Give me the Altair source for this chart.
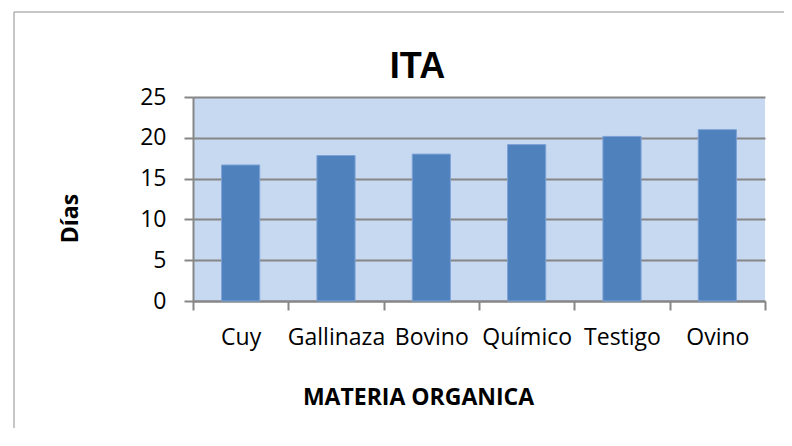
import altair as alt
import pandas as pd

categories = ["Cuy", "Gallinaza", "Bovino", "Químico", "Testigo", "Ovino"]
dias = [16.67, 17.83, 18.0, 19.17, 20.17, 21.0]
y_ticks = [0, 5, 10, 15, 20, 25]

df = pd.DataFrame({"materia": categories, "dias": dias})
frame_df = pd.DataFrame({"k": [0]})

label_font = "Open Sans"
grey = "#868686"

bars = alt.Chart(df).mark_bar(
    width=alt.RelativeBandSize(0.4), color="#4F81BD", stroke="#7DA2D6", strokeWidth=1
).encode(
    x=alt.X(
        "materia:N", sort=categories,
        scale=alt.Scale(paddingInner=0, paddingOuter=0),
        axis=alt.Axis(
            title="MATERIA ORGANICA", labelAngle=0, tickBand="extent", tickSize=9,
            labelPadding=16, labelFontSize=23, labelFont=label_font, labelColor="black",
            labelOverlap=False, domainColor=grey, domainWidth=2, tickColor=grey, tickWidth=2,
            grid=False, titleX=225, titleY=103, titleBaseline="alphabetic", titleAlign="center",
            titleFontSize=23, titleFont=label_font, titleFontWeight="bold", titleColor="black",
        ),
    ),
    y=alt.Y(
        "dias:Q",
        scale=alt.Scale(domain=[0, 25], nice=False, zero=True),
        axis=alt.Axis(
            values=y_ticks, title="Días", tickSize=9, labelPadding=18, labelFontSize=23,
            labelFont=label_font, labelColor="black", domainColor=grey, domainWidth=2,
            tickColor=grey, tickWidth=2, grid=True, gridColor=grey, gridWidth=2,
            titleX=-116, titleY=121, titleAngle=270, titleBaseline="alphabetic",
            titleAlign="center", titleFontSize=23, titleFont=label_font,
            titleFontWeight="bold", titleColor="black",
        ),
    ),
)

frame_top = alt.Chart(frame_df).mark_rule(color="#8e8e8e", strokeWidth=1).encode(
    x=alt.value(-179), x2=alt.value(591), y=alt.value(-85)
)
frame_left = alt.Chart(frame_df).mark_rule(color="#8e8e8e", strokeWidth=1).encode(
    x=alt.value(-179), y=alt.value(-85), y2=alt.value(331)
)

chart = alt.layer(frame_top, frame_left, bars).properties(
    width=572,
    height=204,
    autosize=alt.AutoSizeParams(type="none"),
    padding={"left": 185, "top": 89, "right": 19, "bottom": 127},
    title=alt.Title(
        "ITA", fontSize=36, font="Liberation Sans", fontWeight="bold", color="black",
        anchor="middle", dx=-61.5, frame="group", baseline="alphabetic", offset=19, dy=121,
    ),
).configure_view(fill="#C6D9F1", strokeWidth=0)

chart.save("out.html", embed_options={"renderer": "svg", "actions": False})
